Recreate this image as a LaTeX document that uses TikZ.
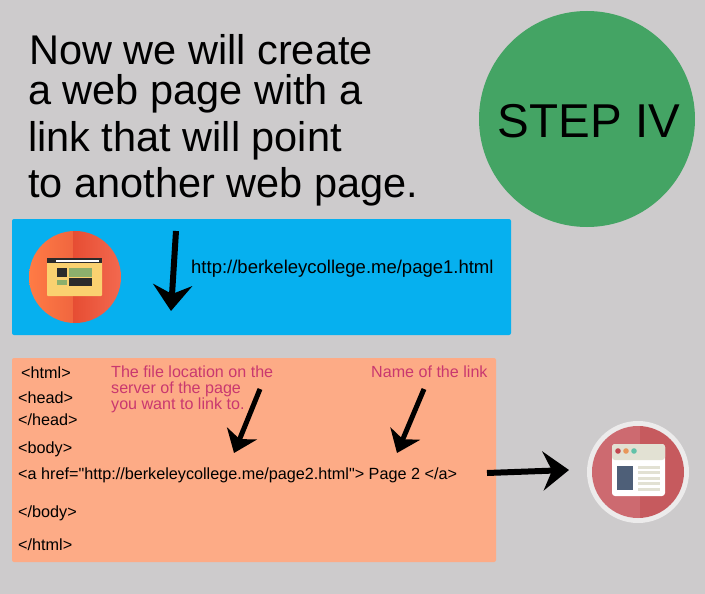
\documentclass[tikz,border=0pt]{standalone}
\usepackage{fontspec}
\setmainfont[Ligatures=TeXOff]{Liberation Sans}
\usetikzlibrary{arrows.meta,positioning}

\definecolor{pagegray}{HTML}{CDCBCC}
\definecolor{stepgreen}{HTML}{44A464}
\definecolor{urlblue}{HTML}{06B0EF}
\definecolor{codeorange}{HTML}{FDAB86}
\definecolor{notepink}{HTML}{C9386F}
\definecolor{tandark}{HTML}{2B2B2B}
\definecolor{tanbody}{HTML}{FAD170}
\definecolor{tangreen}{HTML}{8CAF6C}
\definecolor{pagerim}{HTML}{ECEBEB}
\definecolor{pagehead}{HTML}{E2E1D3}

\begin{document}
\begin{tikzpicture}[
	x = 1pt, y = -1pt, % reference pixels, y pointing down
	> = {Stealth[inset=9pt, length=26pt, width=39pt]}, % arrow head style
	T/.style={anchor=base west, inner sep=0pt, font=\fontsize{41.5}{41.5}\selectfont},
	C/.style={anchor=base west, inner sep=0pt, font=\fontsize{16.2}{16.2}\selectfont},
	N/.style={anchor=base west, inner sep=0pt, text=notepink, font=\fontsize{16.1}{16.1}\selectfont},
	A/.style={->, line width=6pt},
	S/.style={->, line width=5pt, > = {Stealth[inset=6pt, length=21pt, width=32pt]}},
	]

	\useasboundingbox (0,0) rectangle (705,594);
	\fill[pagegray] (0,0) rectangle (705,594);

	% Panels
	\node[circle, fill=stepgreen, minimum size=216pt, inner sep=0pt] (STEP) at (587,119) {};
	\node[font=\fontsize{47.5}{47.5}\selectfont, inner sep=0pt] (STEPT) at (589,121) {STEP IV};
	\node[fill=urlblue, rounded corners=2pt, minimum width=499pt, minimum height=116pt, inner sep=0pt] (URL) at (261.5,277) {};
	\node[fill=codeorange, rounded corners=2pt, minimum width=484pt, minimum height=204pt, inner sep=0pt] (CODE) at (254,460) {};

	% Title lines
	\node[T] (T1) at (29,65) {Now we will create};
	\node[T] (T2) at (28,105) {a web page with a};
	\node[T] (T3) at (28,151) {link that will point};
	\node[T] (T4) at (28,197) {to another web page.};

	% Page 1 address
	\node[anchor=base west, inner sep=0pt, font=\fontsize{18.5}{18.5}\selectfont] (U1) at (191,273) {http://berkeleycollege.me/page1.html};

	% Code lines
	\node[C] (H1) at (21,378) {<html>};
	\node[C] (H2) at (18,403) {<head>};
	\node[C] (H3) at (18,425) {</head>};
	\node[C] (H4) at (18,453) {<body>};
	\node[C] (H5) at (18,479) {<a href="http://berkeleycollege.me/page2.html"> Page 2 </a>};
	\node[C] (H6) at (18,517) {</body>};
	\node[C] (H7) at (18,550) {</html>};

	% Notes
	\node[N] (N1) at (111,377) {The file location on the};
	\node[N] (N2) at (111,393) {server of the page};
	\node[N] (N3) at (111,409) {you want to link to.};
	\node[N] (N4) at (371,377) {Name of the link};

	% Left icon
	\begin{scope}
		\clip (75,277) circle (46);
		\shade[left color={rgb,255:red,255;green,123;blue,69}, right color={rgb,255:red,240;green,102;blue,63}] (29,231) rectangle (73,323);
		\shade[left color={rgb,255:red,230;green,77;blue,51}, right color={rgb,255:red,243;green,105;blue,79}] (73,231) rectangle (121,323);
	\end{scope}
	\fill[tanbody, rounded corners=1pt] (47,258) rectangle (102,296);
	\fill[tandark] (47,258) rectangle (102,262.5);
	\fill[white] (56,259.5) rectangle (99,261.5);
	\fill[tandark] (57,268) rectangle (67,277);
	\fill[tandark] (69,278) rectangle (92,286);
	\fill[tangreen] (69,268) rectangle (92,277);
	\fill[tangreen] (57,280) rectangle (67,285);

	% Right icon
	\node[circle, fill=pagerim, minimum size=102pt, inner sep=0pt] (PAGE) at (638,472) {};
	\begin{scope}
		\clip (638,472) circle (46);
		\fill[fill={rgb,255:red,205;green,106;blue,112}] (590,424) rectangle (640,520);
		\fill[fill={rgb,255:red,198;green,90;blue,94}] (640,424) rectangle (690,520);
	\end{scope}
	\fill[white, rounded corners=3pt] (612,444) rectangle (665,496);
	\fill[pagehead, rounded corners=3pt] (612,444) rectangle (665,460);
	\fill[fill={rgb,255:red,194;green,71;blue,79}] (618,451) circle (2.8);
	\fill[fill={rgb,255:red,232;green,151;blue,90}] (626,451) circle (2.8);
	\fill[fill={rgb,255:red,98;green,194;blue,168}] (634,451) circle (2.8);
	\fill[fill={rgb,255:red,78;green,95;blue,120}] (617,466) rectangle (633,490);
	\foreach \y in {467,472,478,483,489}
		\fill[pagehead] (638,\y-1.5) rectangle (660,\y+1.5);

	% Arrows
	\coordinate (A1s) at (176,231);
	\coordinate (A1e) at (171,311);
	\coordinate (A2s) at (260,389);
	\coordinate (A2e) at (234,453);
	\coordinate (A3s) at (424,389);
	\coordinate (A3e) at (397,453);
	\coordinate (A4s) at (487,473);
	\coordinate (A4e) at (569,470);
	\path[A] (A1s) edge (A1e);
	\path[S] (A2s) edge (A2e);
	\path[S] (A3s) edge (A3e);
	\path[A] (A4s) edge (A4e);

\end{tikzpicture}
\end{document}
